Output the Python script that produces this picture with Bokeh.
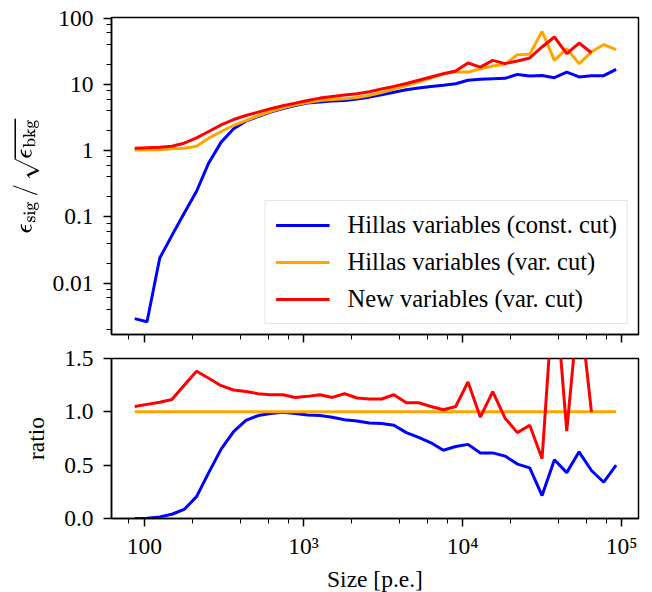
from bokeh.plotting import figure
from bokeh.layouts import column
from bokeh.models import (Range1d, LogTicker, FixedTicker, CustomJSTickFormatter,
                          Legend, LegendItem)
from bokeh.embed import file_html
from bokeh.resources import INLINE

# ---- data ----
size_pe = [87, 104, 125, 149, 178, 213, 254, 304, 364, 435, 520, 621, 743, 888,
           1061, 1269, 1517, 1814, 2169, 2593, 3099, 3705, 4430, 5296, 6332, 7570,
           9050, 10818, 12934, 15462, 18490, 22102, 26424, 31586, 37760, 45140,
           53970, 64520, 77140, 92220]

hillas_const = [0.0029, 0.0026, 0.0238, 0.052, 0.113, 0.243, 0.65, 1.34, 2.13, 2.78,
                3.27, 3.8, 4.32, 4.8, 5.2, 5.4, 5.6, 5.7, 6.0, 6.4, 6.95, 7.6, 8.3,
                8.8, 9.3, 9.7, 10.2, 11.5, 11.9, 12.1, 12.3, 14.1, 13.3, 13.6, 12.6,
                15.3, 12.9, 13.5, 13.5, 16.8]
hillas_var = [1.02, 1.02, 1.03, 1.06, 1.08, 1.16, 1.54, 1.94, 2.39, 2.84, 3.35, 3.89,
              4.42, 4.9, 5.3, 5.7, 5.9, 6.05, 6.3, 6.8, 7.5, 8.5, 9.6, 10.8, 12.4,
              14.4, 15.3, 15.3, 17.2, 18.9, 20.0, 28.0, 28.5, 63.0, 23.0, 34.5, 20.5,
              30.7, 39.8, 33.3]
new_var = [1.08, 1.1, 1.12, 1.16, 1.29, 1.55, 1.94, 2.44, 2.94, 3.38, 3.8, 4.27, 4.74,
           5.2, 5.7, 6.19, 6.56, 6.9, 7.2, 7.7, 8.5, 9.3, 10.3, 11.5, 12.9, 14.4, 15.9,
           21.0, 18.2, 23.0, 20.5, 22.5, 25.0, 36.6, 51.8, 29.0, 42.0, 30.0]

ratio_const = [0.0, 0.002, 0.015, 0.04, 0.085, 0.205, 0.43, 0.65, 0.815, 0.92, 0.965,
               0.985, 0.995, 0.985, 0.97, 0.965, 0.95, 0.925, 0.915, 0.895, 0.89, 0.875,
               0.805, 0.76, 0.71, 0.64, 0.675, 0.695, 0.615, 0.615, 0.585, 0.51, 0.475,
               0.215, 0.55, 0.43, 0.625, 0.45, 0.34, 0.50]
ratio_var = [1.0, 1.0, 1.0, 1.0, 1.0, 1.0, 1.0, 1.0, 1.0, 1.0, 1.0, 1.0, 1.0, 1.0,
             1.0, 1.0, 1.0, 1.0, 1.0, 1.0, 1.0, 1.0, 1.0, 1.0, 1.0, 1.0, 1.0, 1.0,
             1.0, 1.0, 1.0, 1.0, 1.0, 1.0, 1.0, 1.0, 1.0, 1.0, 1.0, 1.0]
ratio_new = [1.05, 1.07, 1.09, 1.115, 1.25, 1.38, 1.315, 1.245, 1.205, 1.19, 1.17, 1.16,
             1.16, 1.135, 1.145, 1.16, 1.135, 1.17, 1.13, 1.12, 1.12, 1.16, 1.085, 1.085,
             1.05, 1.02, 1.05, 1.28, 0.95, 1.19, 0.94, 0.805, 0.875, 0.56, 2.25, 0.82,
             2.05, 1.0]

series_labels = ["Hillas variables (const. cut)", "Hillas variables (var. cut)",
                 "New variables (var. cut)"]
series_colors = ["#0000ff", "#ffa500", "#ff0000"]

x_ticks = [100, 1000, 10000, 100000]
x_tick_labels = ["100", "10³", "10⁴", "10⁵"]
y_ticks = [0.01, 0.1, 1, 10, 100]
y_tick_labels = ["0.01", "0.1", "1", "10", "100"]
ratio_ticks = [0.0, 0.5, 1.0, 1.5]
ratio_tick_labels = ["0.0", "0.5", "1.0", "1.5"]

FONT = "Liberation Serif"
FS = "23.5px"
LW = 3

fmt_code = """
let best = -1, bd = 1e9;
for (let i = 0; i < tvals.length; i++) {
  const d = Math.abs(Math.log10(tvals[i]) - Math.log10(tick));
  if (d < bd) { bd = d; best = i; }
}
return (bd < 1e-6) ? tlabels[best] : '';
"""

def style_axis(ax):
    ax.axis_line_width = 1.5
    ax.axis_line_color = "black"
    ax.major_tick_line_width = 1.5
    ax.minor_tick_line_width = 1
    ax.major_tick_out = 8
    ax.major_tick_in = 0
    ax.minor_tick_out = 5
    ax.minor_tick_in = 0
    ax.major_label_text_font = FONT
    ax.major_label_text_font_size = FS
    ax.major_label_text_color = "black"
    ax.axis_label_text_font = FONT
    ax.axis_label_text_font_size = FS
    ax.axis_label_text_font_style = "normal"
    ax.axis_label_text_color = "black"

def base_fig(y_type, y_range, fh, top, bottom):
    p = figure(x_axis_type="log", y_axis_type=y_type,
               y_range=y_range, frame_width=527, frame_height=fh,
               min_border_left=111, min_border_right=8,
               min_border_top=top, min_border_bottom=bottom,
               output_backend="svg", toolbar_location=None)
    p.xgrid.visible = False
    p.ygrid.visible = False
    p.outline_line_color = "black"
    p.outline_line_width = 1.5
    p.outline_line_alpha = 1.0
    p.background_fill_color = "white"
    p.border_fill_color = "white"
    style_axis(p.xaxis[0])
    style_axis(p.yaxis[0])
    return p

# ---- top panel ----
p1 = base_fig("log", Range1d(0.00167, 102), 317, 17, 12)
p1.x_range = Range1d(62.2, 127500)
p1.xaxis.ticker = LogTicker()
p1.xaxis.formatter = CustomJSTickFormatter(code="return '';")
p1.xaxis.major_label_standoff = 0
p1.yaxis.ticker = LogTicker()
p1.yaxis.formatter = CustomJSTickFormatter(args=dict(tvals=y_ticks, tlabels=y_tick_labels), code=fmt_code)
p1.yaxis.major_label_standoff = 10
p1.yaxis.axis_label = r"$$\epsilon_{\mathrm{sig}}\,/\,\sqrt{\epsilon_{\mathrm{bkg}}}$$"
p1.yaxis.axis_label_standoff = 10

r_const = p1.line(size_pe, hillas_const, line_color=series_colors[0], line_width=LW)
r_var = p1.line(size_pe, hillas_var, line_color=series_colors[1], line_width=LW)
r_new = p1.line(size_pe[:len(new_var)], new_var, line_color=series_colors[2], line_width=LW)

legend = Legend(items=[LegendItem(label=series_labels[0], renderers=[r_const]),
                       LegendItem(label=series_labels[1], renderers=[r_var]),
                       LegendItem(label=series_labels[2], renderers=[r_new])],
                location="bottom_right")
legend.label_text_font = FONT
legend.label_text_font_size = "24.5px"
legend.label_text_color = "black"
legend.glyph_width = 54
legend.glyph_height = 26
legend.label_height = 26
legend.spacing = 9
legend.padding = 10
legend.label_standoff = 18
legend.margin = 10
legend.border_line_color = "#cccccc"
legend.border_line_width = 1.5
legend.background_fill_alpha = 0.8
p1.add_layout(legend)

# ---- bottom panel ----
p2 = base_fig("linear", Range1d(0, 1.5), 160, 12, 72)
p2.x_range = p1.x_range
p2.xaxis.ticker = LogTicker()
p2.xaxis.formatter = CustomJSTickFormatter(args=dict(tvals=x_ticks, tlabels=x_tick_labels), code=fmt_code)
p2.xaxis.major_label_standoff = 6
p2.xaxis.axis_label = "Size [p.e.]"
p2.xaxis.axis_label_standoff = 4
p2.yaxis.ticker = FixedTicker(ticks=ratio_ticks, minor_ticks=[])
p2.yaxis.major_label_overrides = {t: l for t, l in zip(ratio_ticks, ratio_tick_labels)}
p2.yaxis.major_label_standoff = 10
p2.yaxis.axis_label = "ratio"
p2.yaxis.axis_label_standoff = 12

p2.line(size_pe, ratio_const, line_color=series_colors[0], line_width=LW)
p2.line(size_pe, ratio_var, line_color=series_colors[1], line_width=LW)
p2.line(size_pe[:len(ratio_new)], ratio_new, line_color=series_colors[2], line_width=LW)

layout = column(p1, p2, spacing=0)
open("out.html", "w").write(file_html(layout, INLINE))
